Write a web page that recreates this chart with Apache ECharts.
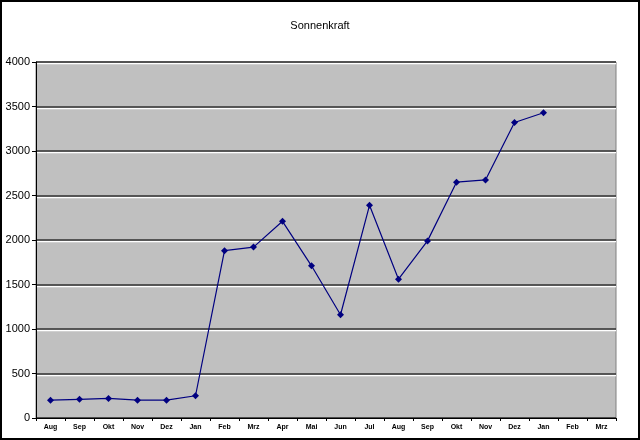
<!DOCTYPE html>
<html><head><meta charset="utf-8">
<script src="https://cdn.jsdelivr.net/npm/echarts@6/dist/echarts.min.js"></script>
<style>html,body{margin:0;padding:0;background:#fff}#c{width:640px;height:440px}</style>
</head><body><div id="c"></div>
<script>
const categories = ['Aug','Sep','Okt','Nov','Dez','Jan','Feb','Mrz','Apr','Mai','Jun','Jul','Aug','Sep','Okt','Nov','Dez','Jan','Feb','Mrz'];
const values = [200,210,220,200,200,250,1880,1920,2210,1710,1160,2390,1560,1990,2650,2675,3320,3430,null,null];
const yTicks = {min:0, max:4000, interval:500};

const chart = echarts.init(document.getElementById('c'), null, {renderer:'canvas'});
chart.setOption({
  animation:false,
  backgroundColor:'#fff',
  title:{text:'Sonnenkraft', left:'center', top:15, textStyle:{fontFamily:'Arial, Liberation Sans', fontSize:11, fontWeight:'normal', color:'#000'}},
  grid:{left:36, right:24, top:62, bottom:22, show:true, backgroundColor:'#C0C0C0', borderColor:'#808080', borderWidth:1},
  xAxis:{type:'category', data:categories, boundaryGap:true,
    axisLine:{lineStyle:{color:'#000', width:1}},
    axisTick:{show:true, length:3, lineStyle:{color:'#000'}},
    axisLabel:{fontFamily:'Arial, Liberation Sans', fontSize:7, fontWeight:'bold', color:'#000', margin:6, interval:0}},
  yAxis:{type:'value', min:yTicks.min, max:yTicks.max, interval:yTicks.interval,
    axisLine:{show:true, lineStyle:{color:'#000', width:1}},
    axisTick:{show:true, length:4, lineStyle:{color:'#000'}},
    axisLabel:{fontFamily:'Arial, Liberation Sans', fontSize:11, color:'#000', margin:6, formatter:function(v){return String(v);}},
    splitLine:{show:true, lineStyle:{color:'#303030', width:1.5, shadowColor:'#ffffff', shadowOffsetY:1.5, shadowBlur:0}}},
  series:[{type:'line', data:values, symbol:'diamond', symbolSize:7,
    itemStyle:{color:'#000080'}, lineStyle:{color:'#000080', width:1.2}, connectNulls:false}],
  graphic:[{type:'rect', shape:{x:1,y:1,width:638,height:438}, style:{fill:'none', stroke:'#000', lineWidth:2}, z:100}]
});
</script></body></html>
